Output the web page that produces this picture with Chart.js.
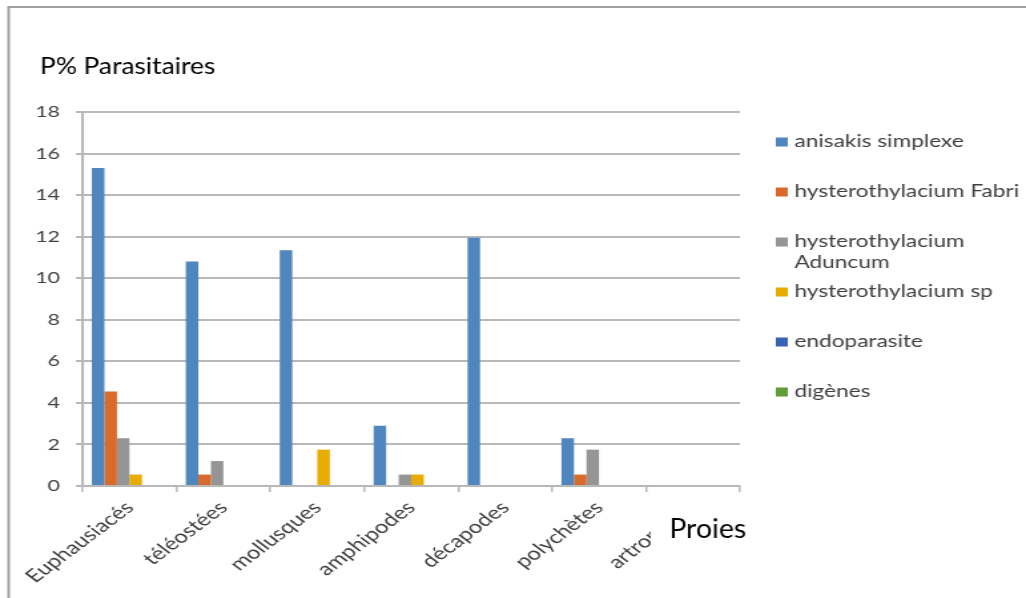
<!DOCTYPE html>
<html>
<head>
<meta charset="utf-8">
<script src="https://cdn.jsdelivr.net/npm/chart.js@4/dist/chart.umd.min.js"></script>
<style>
  html, body { margin: 0; padding: 0; background: #ffffff; overflow: hidden; }
  #wrap { position: relative; width: 1026px; height: 598px; }
</style>
</head>
<body>
<div id="wrap"><canvas id="c" width="771" height="598" style="display:block;width:1026px;height:598px"></canvas></div>
<script>
// Prey categories on the x axis
const categories = ['Euphausiacés', 'téléostées', 'mollusques', 'amphipodes', 'décapodes', 'polychètes', 'artropodes'];

// Parasite prevalence (%) per prey category
const anisakisSimplexe   = [15.3, 10.8, 11.35, 2.9, 11.95, 2.3, 0];
const hysteroFabri       = [4.55, 0.55, 0, 0, 0, 0.55, 0];
const hysteroAduncum     = [2.3, 1.2, 0, 0.55, 0, 1.75, 0];
const hysteroSp          = [0.55, 0, 1.75, 0.55, 0, 0, 0];
const endoparasite       = [0, 0, 0, 0, 0, 0, 0];
const digenes            = [0, 0, 0, 0, 0, 0, 0];

const seriesNames = ['anisakis simplexe', 'hysterothylacium Fabri', 'hysterothylacium Aduncum', 'hysterothylacium sp', 'endoparasite', 'digènes'];
const seriesValues = [anisakisSimplexe, hysteroFabri, hysteroAduncum, hysteroSp, endoparasite, digenes];
const seriesColors = ['#4f86bd', '#d86b2c', '#959595', '#e8ac00', '#3a63b3', '#5f9c3a'];

// Y axis ticks
const yTicks = [0, 2, 4, 6, 8, 10, 12, 14, 16, 18];

const yTitle = 'P% Parasitaires';
const xTitle = 'Proies';

const GRID = '#b8b8b8';
const FONT = 'Lato, "Open Sans", sans-serif';

// draws a title with slightly condensed letterforms
function condensedText(ctx, text, x, y, size, squeeze) {
  ctx.save();
  ctx.translate(x, y);
  ctx.scale(squeeze, 1);
  ctx.font = size + 'px ' + FONT;
  ctx.fillText(text, 0, 0);
  ctx.restore();
}

// Frame, titles and the legend on the right
const decorations = {
  id: 'decorations',
  beforeDraw(chart) {
    const ctx = chart.ctx;
    ctx.save();
    ctx.fillStyle = '#ffffff';
    ctx.fillRect(0, 0, chart.width, chart.height);
    ctx.strokeStyle = '#a0a0a0';
    ctx.lineWidth = 2;
    ctx.beginPath();
    ctx.moveTo(6.5, chart.height + 2);
    ctx.lineTo(6.5, 7);
    ctx.lineTo(chart.width + 2, 7);
    ctx.stroke();
    ctx.restore();
  },
  afterDraw(chart) {
    const ctx = chart.ctx;
    ctx.save();
    ctx.textAlign = 'left';
    ctx.textBaseline = 'middle';

    // value-axis title
    ctx.fillStyle = '#000000';
    condensedText(ctx, yTitle, 30, 67, 23, 0.86);

    // category-axis title on its white box
    ctx.fillStyle = '#ffffff';
    ctx.fillRect(489, 495, 90, 70);
    ctx.fillStyle = '#000000';
    condensedText(ctx, xTitle, 503, 530, 26, 0.82);

    // legend
    const boxX = 583, textX = 597, maxW = 182;
    ctx.font = '17px ' + FONT;
    chart.data.datasets.forEach((ds, i) => {
      const cy = 142 + i * 50;
      ctx.fillStyle = ds.backgroundColor;
      ctx.fillRect(boxX, cy - 4.5, 9, 9);
      ctx.fillStyle = '#404040';
      const words = ds.label.split(' ');
      const lines = [];
      let cur = '';
      words.forEach(w => {
        const t = cur ? cur + ' ' + w : w;
        if (cur && ctx.measureText(t).width > maxW) { lines.push(cur); cur = w; }
        else cur = t;
      });
      lines.push(cur);
      lines.forEach((ln, k) => ctx.fillText(ln, textX, cy + k * 21));
    });
    ctx.restore();
  }
};

const chart = new Chart(document.getElementById('c'), {
  type: 'bar',
  data: {
    labels: categories,
    datasets: seriesNames.map((name, i) => ({
      label: name,
      data: seriesValues[i],
      backgroundColor: seriesColors[i],
      borderWidth: 0,
      categoryPercentage: 0.8,
      barPercentage: 1.0
    }))
  },
  options: {
    responsive: false,
    animation: false,
    devicePixelRatio: 1,
    layout: { padding: { top: 112, right: 215, bottom: 0, left: 0 } },
    plugins: {
      legend: { display: false },
      tooltip: { enabled: false },
      title: { display: false }
    },
    scales: {
      x: {
        offset: true,
        grid: { display: true, drawOnChartArea: false, drawTicks: true, tickLength: 6, offset: true, color: GRID, lineWidth: 1.5 },
        border: { display: true, color: GRID, width: 2 },
        ticks: {
          color: '#404040',
          font: { family: FONT, size: 18 },
          minRotation: 45,
          maxRotation: 45,
          autoSkip: false,
          padding: 5
        },
        afterFit(scale) { scale.height = 112; }
      },
      y: {
        min: 0,
        max: 18,
        afterBuildTicks(scale) { scale.ticks = yTicks.map(v => ({ value: v })); },
        grid: { color: GRID, lineWidth: 2, drawTicks: true, tickLength: 5 },
        border: { display: true, color: GRID, width: 2 },
        ticks: {
          color: '#404040',
          font: { family: FONT, size: 16 },
          padding: 12
        },
        afterFit(scale) { scale.width = 62; }
      }
    }
  },
  plugins: [decorations]
});
</script>
</body>
</html>
